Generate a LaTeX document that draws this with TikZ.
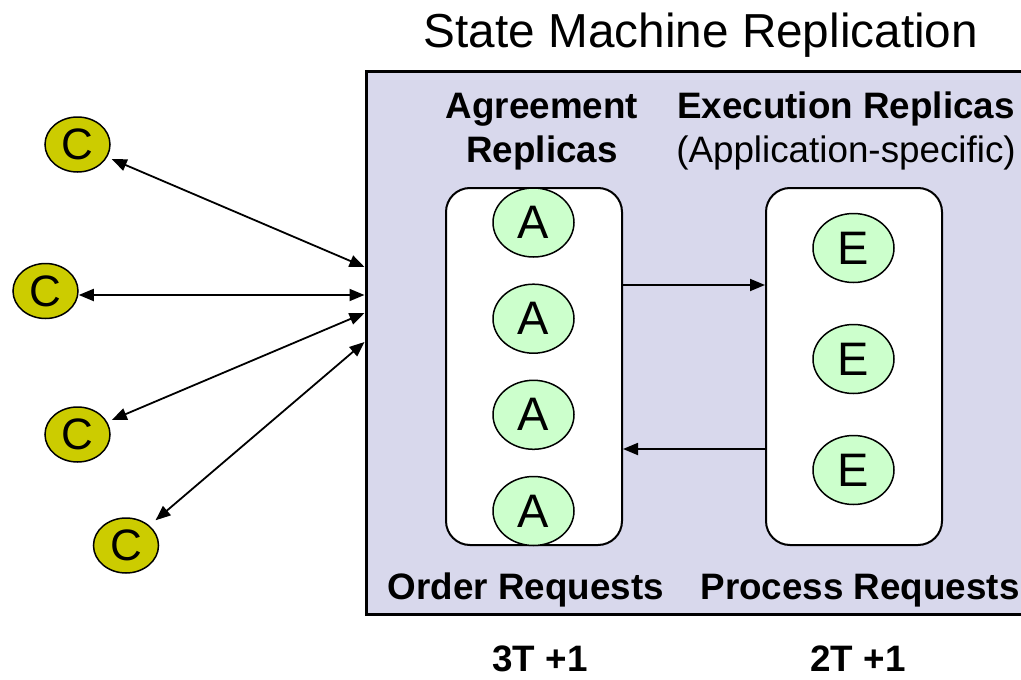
\documentclass[tikz,border=0pt]{standalone}
\usepackage{fontspec}
\setmainfont{Liberation Sans}
\usetikzlibrary{arrows.meta,shapes.geometric}
\definecolor{panel}{RGB}{216,216,236}
\definecolor{replica}{RGB}{204,255,204}
\definecolor{client}{RGB}{204,204,0}
\begin{document}
\begin{tikzpicture}[x=1pt,y=-1pt,
  lbl/.style={inner sep=0, anchor=base, font=\fontsize{36.8}{40}\selectfont\bfseries},
  repl/.style={ellipse, draw, line width=1.5pt, fill=replica, minimum width=81pt,
    minimum height=69pt, inner sep=0, font=\fontsize{47}{47}\selectfont},
  cli/.style={ellipse, draw, line width=1.5pt, fill=client, minimum width=65pt,
    minimum height=55pt, inner sep=0, font=\fontsize{44}{44}\selectfont},
  group/.style={draw, line width=2pt, fill=white, rounded corners=24pt,
    minimum width=176pt, minimum height=357pt, inner sep=0},
  tip/.tip={Triangle[length=15pt,width=12pt]},
  link/.style={line width=1.8pt, -tip},
  duplex/.style={line width=1.8pt, tip-tip}]
\clip (0,0) rectangle (1021,680);

% title
\node[inner sep=0, anchor=base, font=\fontsize{47.7}{50}\selectfont] (title) at (701,47)
  {State Machine Replication};

% replicated service panel (runs off the right edge)
\node[draw, line width=3pt, fill=panel, minimum width=674pt, minimum height=543pt,
  inner sep=0] (smr) at (703,342.5) {};

% column headings
\node[lbl] (agr1) at (542,118) {Agreement};
\node[lbl] (agr2) at (542,162) {Replicas};
\node[lbl] (exe) at (846,118) {Execution Replicas};
\node[inner sep=0, anchor=base, font=\fontsize{36.8}{40}\selectfont] (app) at (846,162)
  {(Application-specific)};

% replica groups
\node[group] (abox) at (534,366.5) {};
\node[group] (ebox) at (854,366.5) {};

\foreach \i/\y in {1/222.5, 2/318.7, 3/414.8, 4/511}
  \node[repl] (a\i) at (533.5,\y) {A};
\foreach \i/\y in {1/248, 2/359, 3/470}
  \node[repl] (e\i) at (853.5,\y) {E};

% ordered requests go to execution, replies come back
\draw[link] (abox.east |- 0,285) -- (ebox.west |- 0,285);
\draw[link] (ebox.west |- 0,449) -- (abox.east |- 0,449);

% footers
\node[lbl] (ord) at (526,599) {Order Requests};
\node[lbl] (proc) at (860,599) {Process Requests};
\node[lbl] (q1) at (540,671) {3T +1};
\node[lbl] (q2) at (858,671) {2T +1};

% clients
\node[cli] (c1) at (77.5,144.5) {C};
\node[cli] (c2) at (45.5,291) {C};
\node[cli] (c3) at (77.5,434.5) {C};
\node[cli] (c4) at (126,545.5) {C};

\coordinate (p1) at (smr.west |- 0,267);
\coordinate (p2) at (smr.west |- 0,295);
\coordinate (p3) at (smr.west |- 0,313);
\coordinate (p4) at (smr.west |- 0,342);

\draw[duplex, shorten <=5pt] (c1) -- (p1);
\draw[duplex] (p2 -| c2.east) -- (p2);
\draw[duplex, shorten <=5pt] (c3) -- (p3);
\draw[duplex, shorten <=8pt] (c4) -- (p4);
\end{tikzpicture}
\end{document}
